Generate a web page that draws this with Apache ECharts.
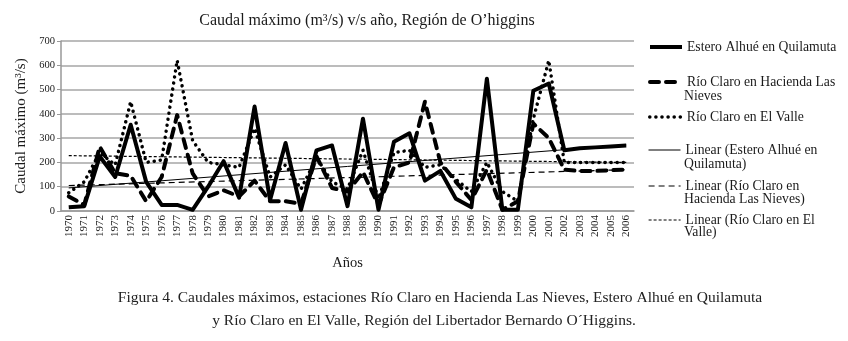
<!DOCTYPE html>
<html>
<head>
<meta charset="utf-8">
<script src="https://cdn.jsdelivr.net/npm/echarts@6/dist/echarts.min.js"></script>
<style>html,body{margin:0;padding:0;background:#fff}#c{width:848px;height:341px}</style>
</head>
<body>
<div id="c"></div>
<script>
var years = ['1970','1971','1972','1973','1974','1975','1976','1977','1978','1979','1980','1981','1982','1983','1984','1985','1986','1987','1988','1989','1990','1991','1992','1993','1994','1995','1996','1997','1998','1999','2000','2001','2002','2003','2004','2005','2006'];
var alhue  = [15,20,225,140,355,120,25,25,5,100,205,55,430,45,280,5,250,270,20,380,5,285,320,125,165,50,15,545,5,5,495,525,250,258,262,266,270];
var nieves = [60,25,265,155,145,40,140,395,155,60,85,60,125,40,40,30,225,95,80,160,25,180,200,450,200,120,45,170,5,40,360,300,170,165,165,168,170];
var valle  = [75,120,240,190,450,200,210,620,290,200,190,180,340,140,190,90,220,120,90,250,50,240,250,180,190,130,80,200,80,40,380,620,200,200,200,200,200];
// linear trend values read at first and last year
var trendAlhue  = [95, 272];
var trendNieves = [105, 170];
var trendValle  = [228, 200];
var yTicks = [0,100,200,300,400,500,600,700];

var names = ['Estero Alhué en Quilamuta','Río Claro en Hacienda Las Nieves','Río Claro en El Valle',
  'Linear (Estero Alhué en Quilamuta)','Linear (Río Claro en Hacienda Las Nieves)','Linear (Río Claro en El Valle)'];
var firstLines = ['Estero Alhué en Quilamuta','Río Claro en Hacienda Las','Río Claro en El Valle',
  'Linear (Estero Alhué en','Linear (Río Claro en','Linear (Río Claro en El'];
var secondLines = ['', 'Nieves', '', 'Quilamuta)', 'Hacienda Las Nieves)', 'Valle)'];

function trend(ends){
  var a = years.map(function(){return null;});
  a[0] = ends[0]; a[years.length-1] = ends[1];
  return a;
}
var FONT = 'Liberation Serif';
var LFS = 13.7;
var legendTops = [47, 82, 117, 150, 186, 220];
var secondTops = [0, 97, 0, 165, 200, 233];

var seriesStyles = [
  {color:'#000', width:4, join:'round'},
  {color:'#000', width:4, type:[9,7], cap:'round', join:'round'},
  {color:'#000', width:3.5, type:[0.1,6], cap:'round', join:'round'},
  {color:'#000', width:1},
  {color:'#000', width:1.2, type:[6,4]},
  {color:'#000', width:1.2, type:[3,2]}
];

var legends = names.map(function(n,i){
  return {
    data:[n], left:648, top:legendTops[i]-7, padding:0, itemWidth:32, itemHeight:14, itemGap:0,
    itemStyle:{opacity:0},
    lineStyle:seriesStyles[i],
    formatter:function(){return firstLines[i];},
    textStyle:{fontFamily:FONT, fontSize:LFS, color:'#1a1a1a'}
  };
});
var graphics = [];
secondLines.forEach(function(t,i){
  if(t){ graphics.push({type:'text', left:684, top:secondTops[i]-8,
    style:{text:t, fontFamily:FONT, fontSize:LFS, fill:'#1a1a1a'}}); }
});
graphics.push({type:'text', x:440, y:298, style:{text:'Figura 4. Caudales máximos, estaciones Río Claro en Hacienda Las Nieves, Estero Alhué en Quilamuta', fontFamily:FONT, fontSize:15.5, fill:'#222', align:'center', verticalAlign:'middle'}});
graphics.push({type:'text', x:424, y:321, style:{text:'y Río Claro en El Valle, Región del Libertador Bernardo O´Higgins.', fontFamily:FONT, fontSize:15.5, fill:'#222', align:'center', verticalAlign:'middle'}});

var option = {
  animation:false,
  color:['#000','#000','#000','#000','#000','#000'],
  title:{text:'Caudal máximo (m³/s) v/s año, Región de O\u2019higgins', left:362, top:8, textAlign:'center',
    textStyle:{fontFamily:FONT, fontSize:16, fontWeight:'normal', color:'#1a1a1a'}},
  grid:{left:61, right:214, top:41, bottom:130},
  legend:legends,
  graphic:graphics,
  xAxis:{type:'category', data:years, boundaryGap:true,
    name:'Años', nameLocation:'middle', nameGap:45,
    nameTextStyle:{fontFamily:FONT, fontSize:14.5, color:'#1a1a1a'},
    axisLine:{lineStyle:{color:'#999', width:1.5}},
    axisTick:{lineStyle:{color:'#999'}, length:4},
    axisLabel:{rotate:90, fontFamily:FONT, fontSize:11, color:'#1a1a1a', margin:4, interval:0}},
  yAxis:{type:'value', min:yTicks[0], max:yTicks[yTicks.length-1], interval:100,
    name:'Caudal máximo (m³/s)', nameLocation:'middle', nameGap:31,
    nameTextStyle:{fontFamily:FONT, fontSize:15, color:'#1a1a1a'},
    axisLine:{show:true, lineStyle:{color:'#999', width:1.5}},
    axisTick:{show:true, length:4, lineStyle:{color:'#999'}},
    axisLabel:{fontFamily:FONT, fontSize:10.5, color:'#1a1a1a', margin:6},
    splitLine:{lineStyle:{color:'#a6a6a6', width:1.5}}},
  series:[
    {name:names[0], type:'line', data:alhue, symbol:'none', z:5, lineStyle:seriesStyles[0]},
    {name:names[1], type:'line', data:nieves, symbol:'none', z:4, lineStyle:seriesStyles[1]},
    {name:names[2], type:'line', data:valle, symbol:'none', z:3, lineStyle:seriesStyles[2]},
    {name:names[3], type:'line', data:trend(trendAlhue), connectNulls:true, symbol:'none', z:6, lineStyle:seriesStyles[3]},
    {name:names[4], type:'line', data:trend(trendNieves), connectNulls:true, symbol:'none', z:6, lineStyle:seriesStyles[4]},
    {name:names[5], type:'line', data:trend(trendValle), connectNulls:true, symbol:'none', z:6, lineStyle:seriesStyles[5]}
  ]
};
var chart = echarts.init(document.getElementById('c'));
chart.setOption(option);
</script>
</body>
</html>
